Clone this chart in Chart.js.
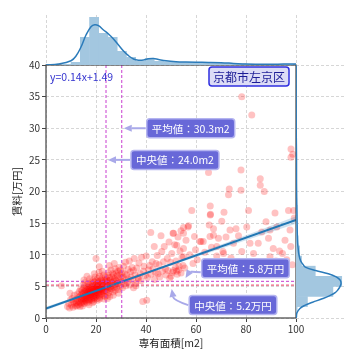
<!DOCTYPE html>
<html>
<head>
<meta charset="utf-8">
<script src="https://cdn.jsdelivr.net/npm/chart.js@4.4.1/dist/chart.umd.min.js"></script>
<style>
  html, body { margin: 0; padding: 0; background: #fff; }
  #wrap { position: relative; width: 360px; height: 360px; }
  #wrap canvas { position: absolute; left: 0; top: 0; }
</style>
</head>
<body>
<div id="wrap">
  <canvas id="mainChart" width="360" height="360"></canvas>
  <canvas id="topChart" width="360" height="360"></canvas>
  <canvas id="rightChart" width="360" height="360"></canvas>
</div>
<script>
// listings: [専有面積 m2, 賃料 万円]
const listings = [
  [6.2,5.1],[8.6,1.8],[9.1,2.3],[9.4,1.6],[9.6,3.9],[9.8,2.9],
  [10.2,2.0],[10.5,3.1],[10.8,1.7],[11.0,2.5],[11.3,3.6],[11.5,2.2],[11.8,1.9],[11.9,2.8],
  [12.1,2.4],[12.3,3.0],[12.4,1.9],[12.6,3.8],[12.8,2.6],[13.0,2.1],[13.1,3.3],[13.3,4.2],[13.4,2.8],[13.6,1.8],[13.7,3.5],[13.8,2.4],[13.9,4.6],[14.0,3.0],
  [14.1,2.2],[14.2,3.7],[14.3,2.9],[14.4,4.4],[14.5,3.3],[14.6,2.5],[14.7,4.0],[14.8,5.2],[14.9,3.1],[15.0,2.7],[15.1,3.9],[15.2,4.7],
  [15.3,2.3],[15.4,3.5],[15.5,4.2],[15.5,3.0],[15.6,5.6],[15.7,2.8],[15.8,3.8],[15.8,4.5],[15.9,3.3],[16.0,2.6],[15.2,6.0],[14.6,1.9],
  [16.1,3.6],[16.1,4.3],[16.2,2.9],[16.3,5.0],[16.4,3.2],[16.5,4.0],[16.5,2.4],[16.6,4.8],[16.7,3.5],[16.8,5.5],[16.9,3.0],[17.0,4.2],[17.0,3.7],[17.1,2.7],[17.2,4.6],
  [17.3,3.9],[17.3,5.2],[17.4,3.3],[17.5,4.4],[17.5,6.2],[17.6,2.9],[17.7,3.8],[17.8,4.9],[17.8,4.1],[17.9,3.4],[18.0,5.7],[16.4,6.6],[17.2,2.1],[16.8,4.5],[17.6,4.0],
  [18.1,3.7],[18.1,4.4],[18.2,3.1],[18.3,5.0],[18.3,4.0],[18.4,2.8],[18.5,4.7],[18.5,3.5],[18.6,5.4],[18.7,4.2],[18.8,3.3],[18.8,6.0],[18.9,4.5],[19.0,3.9],[19.0,5.1],[19.1,2.6],[19.2,4.3],
  [19.2,3.6],[19.3,4.9],[19.4,5.7],[19.4,3.2],[19.5,4.1],[19.6,4.6],[19.6,6.5],[19.7,3.8],[19.8,5.2],[19.8,4.4],[19.9,3.4],[20.0,4.8],[20.0,5.9],[18.6,2.4],[19.3,7.0],[18.9,3.0],[19.7,4.0],
  [20.0,9.4],[21.3,8.1],
  [20.1,4.2],[20.2,3.6],[20.3,5.3],[20.4,4.6],[20.4,3.1],[20.5,5.0],[20.6,4.0],[20.7,6.2],[20.8,4.4],[20.9,3.5],[21.0,5.5],[21.0,4.8],[21.1,3.9],[21.2,5.1],[21.3,4.3],
  [21.4,6.6],[21.5,3.3],[21.5,4.7],[21.6,5.8],[21.7,4.1],[21.8,5.3],[21.8,3.7],[21.9,4.9],[22.0,6.0],[20.6,2.8],[21.2,7.2],[20.3,4.9],[21.7,4.5],[20.9,5.7],[21.4,3.0],
  [22.1,4.5],[22.2,5.4],[22.3,3.8],[22.4,6.3],[22.5,4.9],[22.6,4.2],[22.7,5.7],[22.8,3.5],[22.9,5.1],[23.0,4.6],[23.1,6.8],[23.2,4.0],
  [23.3,5.5],[23.4,4.8],[23.5,6.0],[23.6,3.4],[23.7,5.2],[23.8,4.4],[23.9,5.9],[24.0,4.9],[22.5,7.4],[23.2,3.0],[23.7,6.5],[22.9,4.3],
  [24.1,5.4],[24.2,4.2],[24.3,6.1],[24.4,4.8],[24.5,3.6],[24.6,5.6],[24.7,6.7],[24.8,4.5],[24.9,5.2],[25.0,7.2],[25.1,4.0],
  [25.2,5.9],[25.3,4.9],[25.4,6.4],[25.5,3.4],[25.6,5.4],[25.7,4.6],[25.8,6.0],[25.9,5.0],[26.0,7.6],[24.6,3.1],[25.3,8.3],
  [26.1,5.6],[26.3,4.6],[26.4,6.5],[26.6,5.1],[26.7,7.0],[26.8,4.1],[27.0,5.8],[27.1,6.8],[27.2,4.8],
  [27.4,6.2],[27.5,5.3],[27.6,7.8],[27.7,4.4],[27.8,6.0],[27.9,5.5],[28.0,7.1],[26.9,3.6],[27.3,8.6],
  [28.2,5.9],[28.3,4.9],[28.5,6.7],[28.6,5.4],[28.8,7.4],[28.9,4.5],[29.1,6.2],[29.2,8.0],[29.4,5.6],[29.5,6.9],[29.7,5.0],[29.8,7.6],[30.0,6.4],[29.0,3.9],
  [30.2,5.8],[30.4,7.1],[30.6,4.8],[30.8,6.5],[31.0,8.2],[31.2,5.4],[31.4,7.0],[31.6,6.0],[31.8,8.8],[32.0,5.1],
  [32.3,6.8],[32.5,5.6],[32.8,7.7],[33.0,6.2],[33.3,9.0],[33.5,5.2],[33.8,7.3],[34.0,6.5],
  [34.4,8.0],[34.7,6.0],[35.0,7.5],[35.3,9.4],[35.6,6.8],[35.9,5.5],[35.0,4.8],[36.0,5.1],
  [36.3,7.9],[36.8,6.4],[37.0,6.2],[37.2,8.7],[37.7,7.0],[38.0,5.9],[38.2,9.6],[38.7,2.6],[39.0,7.4],[39.2,8.2],[39.7,6.7],
  [40.1,9.8],[40.3,2.8],[40.6,6.4],[41.0,7.6],[41.4,8.3],[41.9,13.5],[42.0,6.9],[42.5,8.9],[42.8,7.8],[43.3,11.3],[43.4,6.1],[43.8,7.2],[44.0,8.6],[44.5,9.9],[44.8,7.0],
  [45.2,8.4],[45.5,6.5],[46.0,13.0],[46.3,10.5],[46.5,7.4],[47.0,8.9],[47.3,11.3],[47.8,7.8],[48.0,6.8],[48.5,9.4],[48.8,7.5],[49.2,12.0],[49.5,6.3],[49.8,8.8],
  [50.0,6.6],[50.3,10.2],[50.5,7.2],[50.8,13.4],[51.0,7.5],[51.0,13.4],[51.5,11.6],[51.8,8.0],[52.0,9.0],[52.2,7.4],[52.3,11.5],[52.5,6.9],[52.8,12.8],[53.0,7.6],
  [53.2,8.2],[53.6,10.6],[54.0,13.8],[54.0,7.1],[54.4,9.6],[54.8,8.3],[55.0,11.0],[55.0,13.4],[55.0,9.7],[55.0,14.3],[55.5,7.9],[56.0,12.3],[56.8,14.4],[57.0,14.6],
  [57.5,10.0],[58.3,17.0],[58.8,8.6],[59.4,12.9],[59.8,10.8],
  [60.5,9.2],[61.6,12.1],[62.0,12.1],[62.9,12.1],[63.5,10.4],[64.2,8.3],[65.0,23.0],[65.3,14.7],[65.6,12.9],[65.7,17.7],[65.7,16.3],[65.8,16.4],[66.2,11.2],
  [67.0,13.1],[67.0,14.1],[68.3,9.8],[68.3,11.3],[69.0,12.6],
  [70.3,15.3],[70.8,10.5],[71.0,10.2],[71.2,16.7],[72.0,12.8],[73.0,19.5],[73.3,20.4],[73.6,13.9],[74.0,9.5],[75.0,11.8],[76.0,14.1],[77.0,13.0],
  [78.0,23.4],[78.0,20.2],[78.3,10.5],[78.3,35.0],[79.5,8.8],
  [80.3,14.4],[81.0,17.0],[81.6,11.8],[82.3,32.1],[83.0,10.2],[84.3,8.7],[84.9,11.8],[85.7,22.0],[85.7,21.0],[86.3,13.6],[87.0,8.5],[87.3,20.0],
  [88.0,15.2],[89.0,12.6],[89.6,13.9],[89.6,9.7],
  [90.9,11.0],[91.6,16.6],[92.0,9.0],[92.3,14.4],[93.4,10.6],[94.6,10.2],[95.6,12.3],[96.0,8.1],[96.3,9.2],[97.0,17.0],[97.6,13.9],[97.9,11.3],
  [98.0,26.7],[98.0,25.4],[98.7,25.9],[98.5,8.4],[99.0,17.0],[99.3,15.8]
];

// summary values
const areaMean = 30.3;
const areaMedian = 24.0;
const rentMean = 5.8;
const rentMedian = 5.2;
const fitSlope = 0.14;
const fitIntercept = 1.49;
const wardName = '京都市左京区';

// regression line ends and confidence band
const fitX = [0, 100];
const fitY = [1.49, 15.49];
const bandX = [0, 10, 20, 30, 40, 50, 60, 70, 80, 90, 100];
const bandUpper = [1.77, 3.09, 4.42, 5.79, 7.21, 8.67, 10.14, 11.62, 13.10, 14.59, 16.07];
const bandLower = [1.21, 2.69, 4.16, 5.59, 6.97, 8.31, 9.64, 10.96, 12.28, 13.59, 14.91];

// marginal histogram of area (bin centres, counts)
const areaBins = [8.15, 11.85, 15.55, 19.25, 22.95, 26.65, 30.35, 34.05, 37.75, 41.45, 45.15, 48.85, 52.55,
  56.25, 59.95, 63.65, 67.35, 71.05, 74.75, 78.45, 82.15, 85.85, 89.55, 93.25, 96.95];
const areaCounts = [1, 3, 28, 48, 32, 28, 14, 8, 4, 7, 4, 3.5, 3, 3, 2.5, 2.5, 2, 2, 2, 1.5, 1, 1, 1, 1, 1];
const areaKdeX = [0, 5, 10, 12, 14, 16, 18, 19.5, 21, 23, 25, 27, 29, 31, 33, 35, 37, 39, 41, 43, 45, 48, 52, 56, 60, 65, 70, 75, 80, 85, 90, 95, 100];
const areaKdeY = [0, 1, 4.3, 9, 18, 30, 38.3, 40.3, 39.3, 35, 31, 26, 20, 14, 9.3, 6, 4.8, 5, 6.2, 6.5, 5.5, 4.2, 3.3, 2.9, 2.7, 2.6, 2.3, 1.6, 0.9, 0.7, 0.7, 0.9, 1.0];

// marginal histogram of rent
const rentBins = [1.0, 2.6, 4.2, 5.8, 7.4, 9.0, 10.6, 12.2, 13.8, 15.4, 17.0, 18.6, 20.2, 21.8, 23.4, 25.0, 26.6];
const rentCounts = [1.5, 12, 38, 47, 20, 6, 4, 2.5, 2, 1.5, 1.5, 0.6, 0.8, 0.4, 0.3, 0.4, 0.4];
const rentKdeX = [0, 0.75, 1.5, 2, 2.5, 3, 3.5, 4, 4.5, 5, 5.5, 6, 6.5, 7, 7.5, 8, 8.5, 9, 10, 11, 12, 14, 16, 18, 20, 22, 25, 27, 30, 35, 40];
const rentKdeY = [0.2, 0.7, 4, 9, 17, 26, 34, 40, 43, 45, 46, 45, 41, 33, 20, 10, 7, 4.8, 3, 2.2, 1.6, 1.2, 1.0, 0.8, 0.6, 0.5, 0.5, 0.4, 0.2, 0.1, 0.05];

const xTicks = [0, 20, 40, 60, 80, 100];
const yTicks = [0, 5, 10, 15, 20, 25, 30, 35, 40];

const JP = '"Noto Sans CJK JP", "Noto Sans", sans-serif';
const gridColor = '#cccccc';
const histFill = '#a3c7e0';
const kdeColor = '#2b7bba';

function drawArrow(ctx, sx, sy, ex, ey, rad, shrink) {
  const mx = (sx + ex) / 2, my = (sy + ey) / 2;
  const cx = mx + rad * (ey - sy), cy = my - rad * (ex - sx);
  let ang = Math.atan2(ey - cy, ex - cx);
  const tx = ex - shrink * Math.cos(ang), ty = ey - shrink * Math.sin(ang);
  const hl = 8, hw = 3.6;
  const bx = tx - hl * Math.cos(ang), by = ty - hl * Math.sin(ang);
  ctx.strokeStyle = '#a9a9e9';
  ctx.fillStyle = '#a9a9e9';
  ctx.lineWidth = 2;
  ctx.beginPath();
  ctx.moveTo(sx, sy);
  ctx.quadraticCurveTo(cx, cy, bx, by);
  ctx.stroke();
  ctx.beginPath();
  ctx.moveTo(tx, ty);
  ctx.lineTo(bx - hw * Math.sin(ang), by + hw * Math.cos(ang));
  ctx.lineTo(bx + hw * Math.sin(ang), by - hw * Math.cos(ang));
  ctx.closePath();
  ctx.fill();
}

function roundBox(ctx, x, y, w, h, r) {
  ctx.beginPath();
  ctx.moveTo(x + r, y);
  ctx.arcTo(x + w, y, x + w, y + h, r);
  ctx.arcTo(x + w, y + h, x, y + h, r);
  ctx.arcTo(x, y + h, x, y, r);
  ctx.arcTo(x, y, x + w, y, r);
  ctx.closePath();
}

function noteBox(ctx, cx, cy, text) {
  ctx.font = '10.5px ' + JP;
  const w = ctx.measureText(text).width + 10, h = 19;
  roundBox(ctx, cx - w / 2, cy - h / 2, w, h, 3);
  ctx.fillStyle = '#6868d8';
  ctx.fill();
  ctx.strokeStyle = '#b4b4f0';
  ctx.lineWidth = 1.5;
  ctx.stroke();
  ctx.fillStyle = '#ffffff';
  ctx.textAlign = 'center';
  ctx.textBaseline = 'middle';
  ctx.fillText(text, cx, cy + 0.5);
  return { left: cx - w / 2, w };
}

const jointDecor = {
  id: 'jointDecor',
  afterDatasetsDraw(chart) {
    const { ctx, chartArea: a, scales: { x, y } } = chart;
    ctx.save();
    ctx.strokeStyle = '#444';
    ctx.lineWidth = 1.2;
    ctx.strokeRect(a.left, a.top, a.right - a.left, a.bottom - a.top);

    ctx.fillStyle = '#3535cf';
    ctx.font = '10.5px ' + JP;
    ctx.textAlign = 'left';
    ctx.textBaseline = 'middle';
    ctx.fillText(`y=${fitSlope}x+${fitIntercept}`, a.left + 4, a.top + 12);

    ctx.font = '12px ' + JP;
    const ww = ctx.measureText(wardName).width + 8;
    const wcx = a.right - 47, wcy = a.top + 11.5;
    roundBox(ctx, wcx - ww / 2, wcy - 9.5, ww, 19, 3);
    ctx.fillStyle = '#dcdcf6';
    ctx.fill();
    ctx.strokeStyle = '#2f2fe0';
    ctx.lineWidth = 1.5;
    ctx.stroke();
    ctx.fillStyle = '#1c1c96';
    ctx.textAlign = 'center';
    ctx.fillText(wardName, wcx, wcy + 0.5);

    // mean / median of area: straight arrows from the right
    [[areaMean, 30, '平均値：' + areaMean.toFixed(1) + 'm2'],
     [areaMedian, 25, '中央値：' + areaMedian.toFixed(1) + 'm2']].forEach(([vx, vy, t]) => {
      const px = x.getPixelForValue(vx), py = y.getPixelForValue(vy);
      ctx.font = '10.5px ' + JP;
      const w = ctx.measureText(t).width + 10;
      const b = noteBox(ctx, px + 25 + w / 2, py, t);
      drawArrow(ctx, b.left - 1, py, px, py, 0, 2);
    });

    // mean / median of rent: curved arrows
    [[55, rentMean, '平均値：' + rentMean.toFixed(1) + '万円', -13, -0.3, 4],
     [50, rentMedian, '中央値：' + rentMedian.toFixed(1) + '万円', 20, 0.3, 0]].forEach(([vx, vy, t, dy, rad, sy]) => {
      const px = x.getPixelForValue(vx), py = y.getPixelForValue(vy);
      const b = noteBox(ctx, px + 62, py + dy, t);
      drawArrow(ctx, b.left - 1, py + dy + sy, px, py, rad, 4);
    });
    ctx.restore();
  }
};

const dashedGrid = { color: gridColor, lineWidth: 0.8, tickLength: 4, tickColor: '#444', tickWidth: 1 };

new Chart(document.getElementById('mainChart'), {
  type: 'scatter',
  data: {
    datasets: [
      {
        data: listings.map(([ax, ry]) => ({ x: ax, y: ry })),
        backgroundColor: 'rgba(255, 0, 0, 0.24)',
        borderWidth: 0,
        pointRadius: 3.5,
        order: 10
      },
      {
        type: 'line',
        data: bandX.map((v, i) => ({ x: v, y: bandUpper[i] })),
        borderWidth: 0,
        pointRadius: 0,
        fill: '+1',
        backgroundColor: 'rgba(31, 119, 180, 0.22)',
        order: 6
      },
      {
        type: 'line',
        data: bandX.map((v, i) => ({ x: v, y: bandLower[i] })),
        borderWidth: 0,
        pointRadius: 0,
        fill: false,
        order: 7
      },
      {
        type: 'line',
        data: fitX.map((v, i) => ({ x: v, y: fitY[i] })),
        borderColor: '#2077b4',
        borderWidth: 2,
        pointRadius: 0,
        order: 4
      },
      {
        type: 'line',
        data: [{ x: areaMedian, y: 0 }, { x: areaMedian, y: 40 }],
        borderColor: '#c83ccf', borderWidth: 1, borderDash: [3, 2], pointRadius: 0, order: 3
      },
      {
        type: 'line',
        data: [{ x: areaMean, y: 0 }, { x: areaMean, y: 40 }],
        borderColor: '#c83ccf', borderWidth: 1, borderDash: [3, 2], pointRadius: 0, order: 3
      },
      {
        type: 'line',
        data: [{ x: 0, y: rentMean }, { x: 100, y: rentMean }],
        borderColor: '#c83ccf', borderWidth: 1, borderDash: [3, 2], pointRadius: 0, order: 3
      },
      {
        type: 'line',
        data: [{ x: 0, y: rentMedian }, { x: 100, y: rentMedian }],
        borderColor: '#e2365c', borderWidth: 1, borderDash: [3, 2], pointRadius: 0, order: 3
      }
    ]
  },
  options: {
    responsive: false,
    animation: false,
    layout: { padding: { left: 0, right: 64, top: 65, bottom: 0 } },
    plugins: { legend: { display: false }, tooltip: { enabled: false } },
    scales: {
      x: {
        type: 'linear', min: 0, max: 100,
        afterBuildTicks: s => { s.ticks = xTicks.map(v => ({ value: v })); },
        ticks: { color: '#333', font: { family: JP, size: 10 }, padding: 1, maxRotation: 0 },
        grid: dashedGrid,
        border: { display: false, dash: [3, 2] },
        title: { display: true, text: '専有面積[m2]', color: '#222', font: { family: JP, size: 10.5 }, padding: { top: 0, bottom: 11 } },
        afterFit: s => { s.height = 42; }
      },
      y: {
        type: 'linear', min: 0, max: 40,
        afterBuildTicks: s => { s.ticks = yTicks.map(v => ({ value: v })); },
        ticks: { color: '#333', font: { family: JP, size: 10 }, padding: 2 },
        grid: dashedGrid,
        border: { display: false, dash: [3, 2] },
        title: { display: true, text: '賃料[万円]', color: '#222', font: { family: JP, size: 10.5 }, padding: { top: 11, bottom: 0 } },
        afterFit: s => { s.width = 46; }
      }
    }
  },
  plugins: [jointDecor]
});

new Chart(document.getElementById('topChart'), {
  type: 'bar',
  data: {
    datasets: [
      {
        type: 'line',
        data: areaKdeX.map((v, i) => ({ x: v, y: areaKdeY[i] })),
        borderColor: kdeColor, borderWidth: 1.5, pointRadius: 0, tension: 0.4, order: 1
      },
      {
        data: areaBins.map((v, i) => ({ x: v, y: areaCounts[i] })),
        backgroundColor: histFill, borderWidth: 0,
        barPercentage: 1.06, categoryPercentage: 1, order: 2
      }
    ]
  },
  options: {
    responsive: false,
    animation: false,
    layout: { padding: { left: 46, right: 64, top: 15, bottom: 295 } },
    plugins: { legend: { display: false }, tooltip: { enabled: false } },
    scales: {
      x: {
        type: 'linear', min: 0, max: 100, offset: false,
        afterBuildTicks: s => { s.ticks = xTicks.map(v => ({ value: v })); },
        ticks: { display: false },
        grid: { color: gridColor, lineWidth: 0.8, offset: false, drawTicks: false },
        border: { display: false, dash: [3, 2] },
        afterFit: s => { s.height = 0; }
      },
      y: { display: false, min: 0, max: 50 }
    }
  }
});

new Chart(document.getElementById('rightChart'), {
  type: 'bar',
  data: {
    datasets: [
      {
        type: 'line',
        indexAxis: 'y',
        data: rentKdeX.map((v, i) => ({ x: rentKdeY[i], y: v })),
        borderColor: kdeColor, borderWidth: 1.5, pointRadius: 0, tension: 0.4, order: 1
      },
      {
        data: rentBins.map((v, i) => ({ x: rentCounts[i], y: v })),
        backgroundColor: histFill, borderWidth: 0,
        barPercentage: 1.06, categoryPercentage: 1, order: 2
      }
    ]
  },
  options: {
    indexAxis: 'y',
    responsive: false,
    animation: false,
    layout: { padding: { left: 296, right: 15, top: 65, bottom: 42 } },
    plugins: { legend: { display: false }, tooltip: { enabled: false } },
    scales: {
      y: {
        type: 'linear', min: 0, max: 40, offset: false,
        afterBuildTicks: s => { s.ticks = yTicks.map(v => ({ value: v })); },
        ticks: { display: false },
        grid: { color: gridColor, lineWidth: 0.8, offset: false, drawTicks: false },
        border: { display: false, dash: [3, 2] },
        afterFit: s => { s.width = 0; }
      },
      x: { display: false, min: 0, max: 50 }
    }
  }
});
</script>
</body>
</html>
